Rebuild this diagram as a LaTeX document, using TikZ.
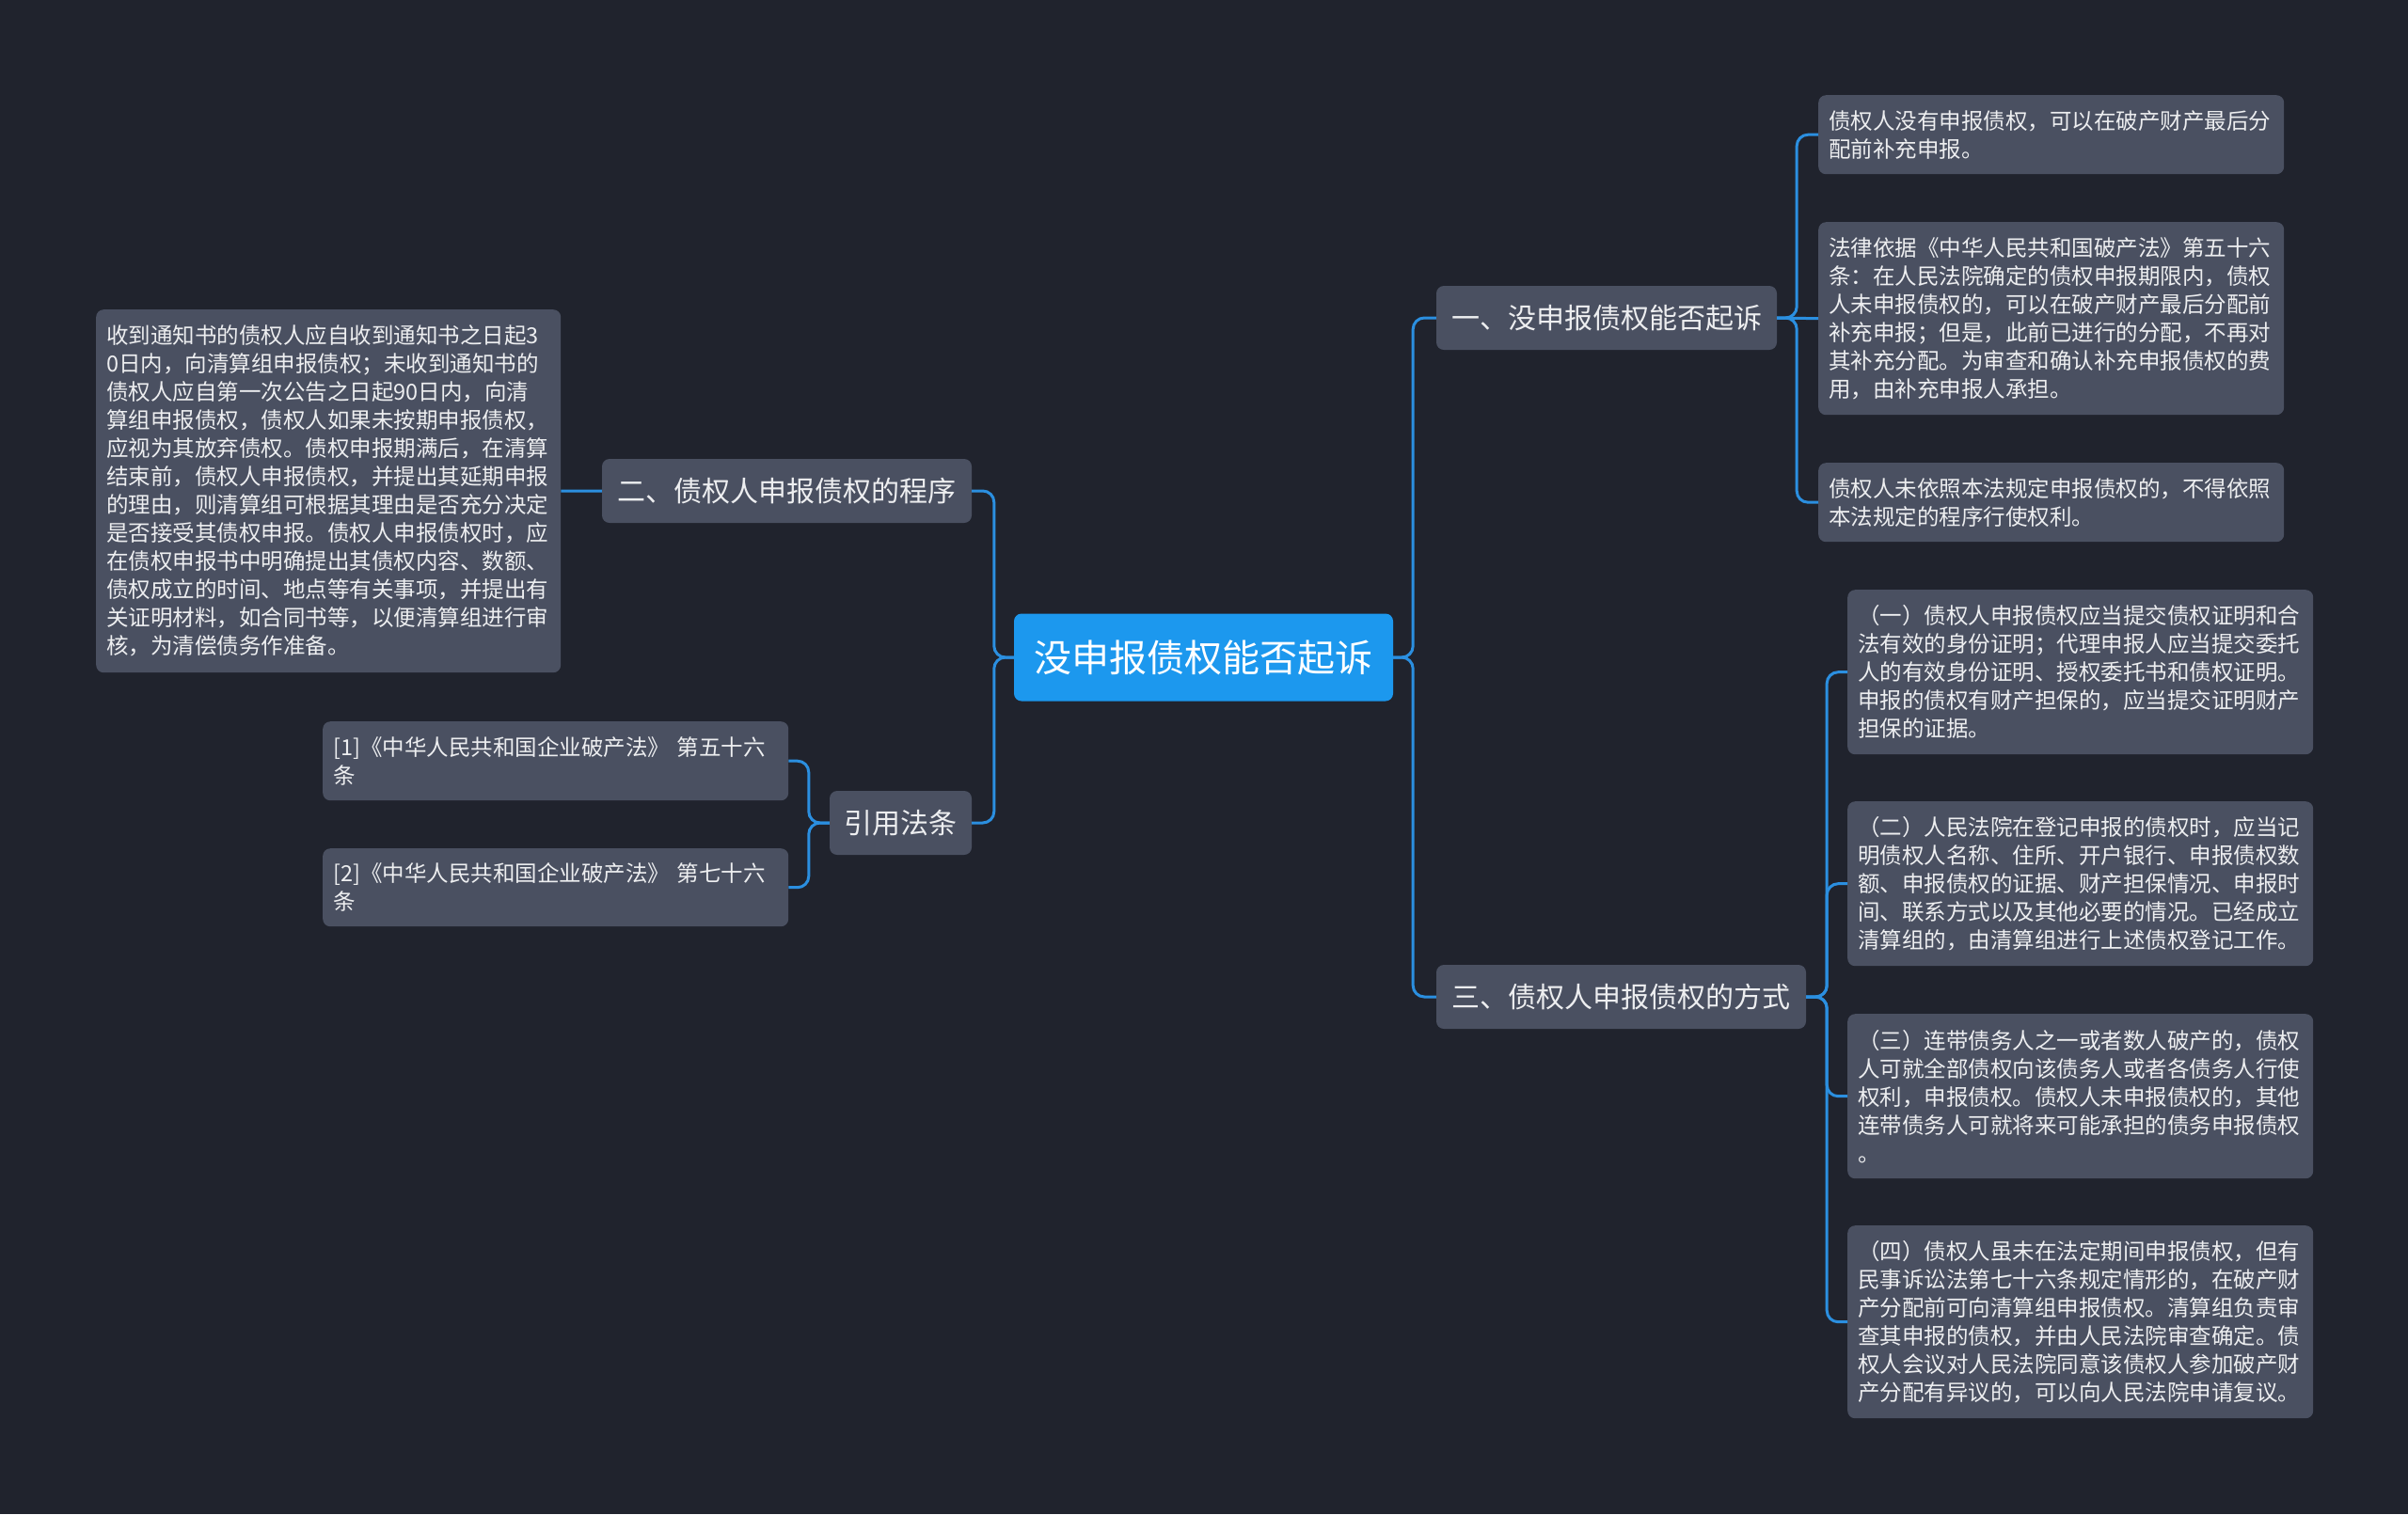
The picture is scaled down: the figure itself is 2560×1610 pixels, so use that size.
\documentclass[tikz,border=0pt]{standalone}
\usepackage{fontspec}
\setmainfont{Noto Sans CJK SC}
\definecolor{bgc}{HTML}{20232D}
\definecolor{nodegray}{HTML}{4A5061}
\definecolor{centerblue}{HTML}{1C98EE}
\definecolor{linec}{HTML}{2B8FE0}
\definecolor{txt}{HTML}{EDEEF0}
\tikzset{
  box/.style={rounded corners=8pt, fill=nodegray, text=txt, inner sep=0pt},
  leaf/.style={box, anchor=north west, align=left, inner xsep=11pt,
    text width=473pt, minimum width=495pt, font=\fontsize{23.5}{30}\selectfont},
  topic/.style={box, font=\fontsize{30}{36}\selectfont, minimum height=68pt},
  rootbox/.style={box, fill=centerblue, text=white, font=\fontsize{40}{48}\selectfont,
    minimum width=403pt, minimum height=93pt},
  conn/.style={draw=linec, line width=3pt, rounded corners=12pt},
}
\begin{document}
\begin{tikzpicture}[x=1pt,y=-1pt]
\useasboundingbox (0,0) rectangle (2560,1610);
\fill[bgc] (0,0) rectangle (2560,1610);

% root
\node[rootbox] (c) at (1279.5,699) {没申报债权能否起诉};

% level 1
\node[topic, minimum width=362pt] (n1) at (1708,338) {一、没申报债权能否起诉};
\node[topic, minimum width=393pt] (n3) at (1723.5,1060) {三、债权人申报债权的方式};
\node[topic, minimum width=393pt] (n2) at (836.5,522) {二、债权人申报债权的程序};
\node[topic, minimum width=151pt] (nc) at (957.5,875) {引用法条};

% left leaves
\node[leaf, minimum width=494pt, text width=472pt, minimum height=386pt] (l1) at (102,329) {收到通知书的债权人应自收到通知书之日起3\\0日内，向清算组申报债权；未收到通知书的\\债权人应自第一次公告之日起90日内，向清\\算组申报债权，债权人如果未按期申报债权，\\应视为其放弃债权。债权申报期满后，在清算\\结束前，债权人申报债权，并提出其延期申报\\的理由，则清算组可根据其理由是否充分决定\\是否接受其债权申报。债权人申报债权时，应\\在债权申报书中明确提出其债权内容、数额、\\债权成立的时间、地点等有关事项，并提出有\\关证明材料，如合同书等，以便清算组进行审\\核，为清偿债务作准备。};

\node[leaf, minimum height=84pt] (c1) at (343,767) {[1]《中华人民共和国企业破产法》 第五十六\\条};
\node[leaf, minimum height=83pt] (c2) at (343,902) {[2]《中华人民共和国企业破产法》 第七十六\\条};

% right leaves of n1
\node[leaf, minimum height=84pt] (r1a) at (1933,101) {债权人没有申报债权，可以在破产财产最后分\\配前补充申报。};
\node[leaf, minimum height=205pt] (r1b) at (1933,236) {法律依据《中华人民共和国破产法》第五十六\\条：在人民法院确定的债权申报期限内，债权\\人未申报债权的，可以在破产财产最后分配前\\补充申报；但是，此前已进行的分配，不再对\\其补充分配。为审查和确认补充申报债权的费\\用，由补充申报人承担。};
\node[leaf, minimum height=84pt] (r1c) at (1933,492) {债权人未依照本法规定申报债权的，不得依照\\本法规定的程序行使权利。};

% right leaves of n3
\node[leaf, minimum height=175pt] (r3a) at (1964,627) {（一）债权人申报债权应当提交债权证明和合\\法有效的身份证明；代理申报人应当提交委托\\人的有效身份证明、授权委托书和债权证明。\\申报的债权有财产担保的，应当提交证明财产\\担保的证据。};
\node[leaf, minimum height=175pt] (r3b) at (1964,852) {（二）人民法院在登记申报的债权时，应当记\\明债权人名称、住所、开户银行、申报债权数\\额、申报债权的证据、财产担保情况、申报时\\间、联系方式以及其他必要的情况。已经成立\\清算组的，由清算组进行上述债权登记工作。};
\node[leaf, minimum height=175pt] (r3c) at (1964,1078) {（三）连带债务人之一或者数人破产的，债权\\人可就全部债权向该债务人或者各债务人行使\\权利，申报债权。债权人未申报债权的，其他\\连带债务人可就将来可能承担的债务申报债权\\。};
\node[leaf, minimum height=205pt] (r3d) at (1964,1303) {（四）债权人虽未在法定期间申报债权，但有\\民事诉讼法第七十六条规定情形的，在破产财\\产分配前可向清算组申报债权。清算组负责审\\查其申报的债权，并由人民法院审查确定。债\\权人会议对人民法院同意该债权人参加破产财\\产分配有异议的，可以向人民法院申请复议。};

% connectors
\draw[conn] (c.east) -- ++(21,0) |- (n1.west);
\draw[conn] (c.east) -- ++(21,0) |- (n3.west);
\draw[conn] (c.west) -- ++(-21,0) |- (n2.east);
\draw[conn] (c.west) -- ++(-21,0) |- (nc.east);

\draw[conn] (n2.west) -- (l1.east);
\draw[conn] (nc.west) -- ++(-22,0) |- (c1.east);
\draw[conn] (nc.west) -- ++(-22,0) |- (c2.east);

\draw[conn] (n1.east) -- ++(21,0) |- (r1a.west);
\draw[conn] (n1.east) -- (r1b.west);
\draw[conn] (n1.east) -- ++(21,0) |- (r1c.west);

\draw[conn] (n3.east) -- ++(22,0) |- (r3a.west);
\draw[conn] (n3.east) -- ++(22,0) |- (r3b.west);
\draw[conn] (n3.east) -- ++(22,0) |- (r3c.west);
\draw[conn] (n3.east) -- ++(22,0) |- (r3d.west);
\end{tikzpicture}
\end{document}
